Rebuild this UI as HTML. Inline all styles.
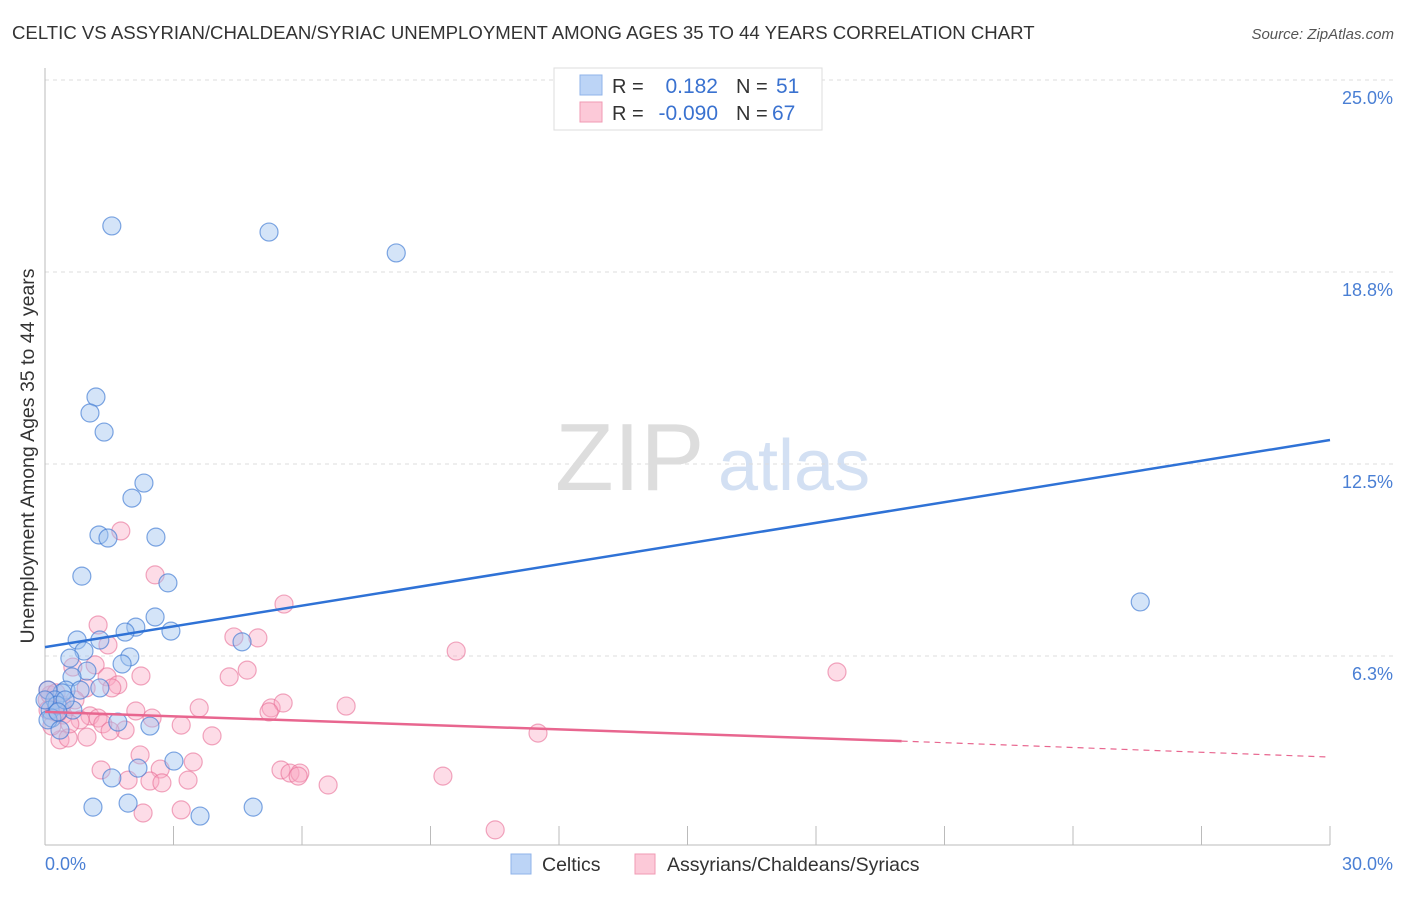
<!DOCTYPE html>
<html><head><meta charset="utf-8"><style>
body{margin:0;background:#fff;font-family:"Liberation Sans",sans-serif}
svg text{font-family:"Liberation Sans",sans-serif}
</style></head><body>
<svg id="chart" width="1406" height="892" xmlns="http://www.w3.org/2000/svg">
<text x="12" y="39" font-size="18.6" fill="#333">CELTIC VS ASSYRIAN/CHALDEAN/SYRIAC UNEMPLOYMENT AMONG AGES 35 TO 44 YEARS CORRELATION CHART</text>
<text x="1394" y="39" font-size="15" fill="#555" text-anchor="end" font-style="italic">Source: ZipAtlas.com</text>
<g>
<text x="555" y="490" font-size="96" fill="#ddd" font-family="Liberation Serif, serif">ZIP</text>
<text x="718" y="490" font-size="72" fill="#d3e0f3">atlas</text>
</g>
<g id="grid"></g>
<g id="axes"></g>
<g id="pts"></g>
<g id="lines"></g>
<text transform="translate(34,456) rotate(-90)" font-size="19.5" fill="#333" text-anchor="middle">Unemployment Among Ages 35 to 44 years</text>
<g>
<rect x="554" y="68" width="268" height="62" fill="#fff" stroke="#ddd"/>
<rect x="580" y="75" width="22" height="20" fill="#bcd4f6" stroke="#8fb3ea"/>
<rect x="580" y="102" width="22" height="20" fill="#fcc9d8" stroke="#f09ab3"/>
<text x="612" y="93" font-size="20" fill="#333">R =</text>
<text x="718" y="93" font-size="21" fill="#3a72d0" text-anchor="end">0.182</text>
<text x="736" y="93" font-size="20" fill="#333">N =</text>
<text x="776" y="93" font-size="21" fill="#3a72d0">51</text>
<text x="612" y="120" font-size="20" fill="#333">R =</text>
<text x="718" y="120" font-size="21" fill="#3a72d0" text-anchor="end">-0.090</text>
<text x="736" y="120" font-size="20" fill="#333">N =</text>
<text x="772" y="120" font-size="21" fill="#3a72d0">67</text>
</g>
<g>
<rect x="511" y="854" width="20" height="20" fill="#bcd4f6" stroke="#8fb3ea"/>
<text x="542" y="871" font-size="19.5" fill="#333">Celtics</text>
<rect x="635" y="854" width="20" height="20" fill="#fcc9d8" stroke="#f09ab3"/>
<text x="667" y="871" font-size="19.5" fill="#333">Assyrians/Chaldeans/Syriacs</text>
</g>
</svg>
<script>
const yTicks=[25,18.75,12.5,6.25];
const yTickLabels=["25.0%","18.8%","12.5%","6.3%"];
const xTicks=[0,3,6,9,12,15,18,21,24,27,30];
const blueX=[1.56,5.23,8.20,1.19,1.05,1.38,2.31,2.03,1.26,1.47,2.59,0.86,2.87,2.57,2.12,2.94,1.87,4.60,0.75,1.28,0.91,0.58,1.98,1.80,0.98,0.63,0.49,0.40,0.82,0.07,0.23,0.12,0.28,0.65,0.16,0.07,0.35,1.70,2.45,3.01,2.17,1.56,1.12,1.94,4.86,3.62,25.57,0.47,1.28,0.0,0.30];
const blueY=[20.25,20.05,19.37,14.68,14.16,13.54,11.88,11.39,10.19,10.09,10.12,8.85,8.63,7.52,7.19,7.06,7.03,6.71,6.77,6.77,6.41,6.18,6.22,5.99,5.76,5.57,5.14,5.05,5.14,5.14,4.82,4.49,4.65,4.49,4.23,4.17,3.84,4.10,3.97,2.83,2.60,2.28,1.33,1.46,1.33,1.04,8.01,4.82,5.21,4.82,4.43];
const pinkX=[1.77,2.57,5.58,1.24,4.41,4.97,9.60,18.49,1.47,0.65,1.17,4.72,2.24,4.30,1.45,1.70,1.56,0.96,3.60,5.28,5.56,5.23,7.03,2.50,2.12,1.05,1.24,0.42,3.18,1.35,0.82,1.87,1.52,0.98,3.90,11.51,0.35,0.54,2.22,3.46,1.31,2.69,5.51,5.72,5.95,5.91,9.29,1.94,3.34,2.45,2.73,6.61,2.29,3.18,10.51,0.05,0.12,0.23,0.40,0.70,0.07,0.16,0.58,0.07,0.26,0.30];
const pinkY=[10.32,8.89,7.94,7.26,6.87,6.84,6.41,5.73,6.61,5.89,5.96,5.79,5.60,5.57,5.57,5.31,5.21,5.21,4.56,4.56,4.72,4.43,4.62,4.23,4.46,4.30,4.23,4.33,4.00,4.04,4.17,3.84,3.81,3.61,3.65,3.74,3.52,3.58,3.03,2.80,2.54,2.57,2.54,2.44,2.44,2.34,2.34,2.21,2.21,2.18,2.12,2.05,1.14,1.24,0.59,4.82,4.98,4.43,4.65,4.82,5.14,3.97,4.04,4.49,5.05,4.40];
const blueLine=[[0,6.54],[30,13.28]];
const pinkSolid=[[0,4.43],[20,3.48]];
const pinkDash=[[20,3.48],[30,2.96]];
const X=v=>45+v/30*1285, Y=v=>848-v/25*768;
const NS="http://www.w3.org/2000/svg";
function mk(p,t,a){const e=document.createElementNS(NS,t);for(const k in a)e.setAttribute(k,a[k]);p.appendChild(e);return e;}
const grid=document.getElementById('grid'),axes=document.getElementById('axes'),pts=document.getElementById('pts'),lines=document.getElementById('lines');
yTicks.forEach((t,i)=>{
 const g=mk(grid,'line',{x1:45,x2:1394,y1:Y(t),y2:Y(t),stroke:'#ddd','stroke-dasharray':'4,4'});
 
 
 const l=mk(axes,'text',{x:1393,y:Y(t)+24,'font-size':18,fill:'#4a7fd4','text-anchor':'end'});l.textContent=yTickLabels[i];
 
 
});
const ya=mk(axes,'line',{x1:45,x2:45,y1:68,y2:845,stroke:'#bbb'});


const xa=mk(axes,'line',{x1:45,x2:1330,y1:845,y2:845,stroke:'#bbb'});


xTicks.forEach(t=>{const e=mk(axes,'line',{x1:X(t),x2:X(t),y1:826,y2:845,stroke:'#bbb'});
 
 });
const x0=mk(axes,'text',{x:45,y:870,'font-size':18,fill:'#4a7fd4'});x0.textContent='0.0%';


const x1=mk(axes,'text',{x:1393,y:870,'font-size':18,fill:'#4a7fd4','text-anchor':'end'});x1.textContent='30.0%';


pinkX.forEach((v,i)=>{const c=mk(pts,'circle',{cx:X(v),cy:Y(pinkY[i]),r:9,fill:'rgba(249,168,196,0.4)',stroke:'rgba(232,110,150,0.6)','stroke-width':1.2});
 
 });
blueX.forEach((v,i)=>{const c=mk(pts,'circle',{cx:X(v),cy:Y(blueY[i]),r:9,fill:'rgba(160,195,240,0.45)',stroke:'rgba(60,120,210,0.65)','stroke-width':1.2});
 
 });
const bl=mk(lines,'line',{x1:X(blueLine[0][0]),y1:Y(blueLine[0][1]),x2:X(blueLine[1][0]),y2:Y(blueLine[1][1]),stroke:'#2f72d6','stroke-width':2.5});


const ps=mk(lines,'line',{x1:X(pinkSolid[0][0]),y1:Y(pinkSolid[0][1]),x2:X(pinkSolid[1][0]),y2:Y(pinkSolid[1][1]),stroke:'#e8668f','stroke-width':2.5});


const pd=mk(lines,'line',{x1:X(pinkDash[0][0]),y1:Y(pinkDash[0][1]),x2:X(pinkDash[1][0]),y2:Y(pinkDash[1][1]),stroke:'#e8668f','stroke-width':1.2,'stroke-dasharray':'6,5'});


</script>
</body></html>
